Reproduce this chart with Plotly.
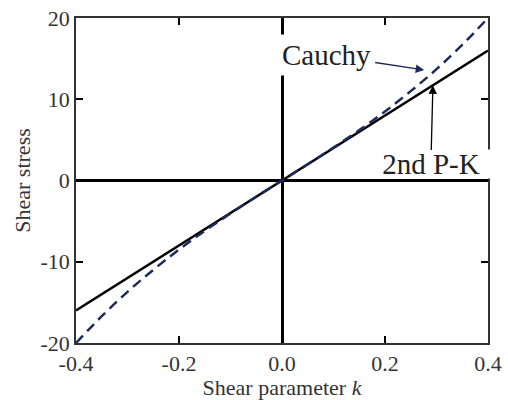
import plotly.graph_objects as go

# Data
k_pk = [-0.4, 0.0, 0.4]
stress_pk = [-16.0, 0.0, 16.0]

k_cauchy = [-0.4, -0.35, -0.3, -0.25, -0.2, -0.15, -0.1, -0.05, 0.0,
            0.05, 0.1, 0.15, 0.2, 0.25, 0.3, 0.35, 0.4]
stress_cauchy = [-20.0, -16.7, -13.7, -11.0, -8.5, -6.2, -4.06, -2.0, 0.0,
                 2.0, 4.06, 6.2, 8.5, 11.0, 13.7, 16.7, 20.0]

x_ticks = [-0.4, -0.2, 0.0, 0.2, 0.4]
x_ticklabels = ["-0.4", "-0.2", "0.0", "0.2", "0.4"]
y_ticks = [-20, -10, 0, 10, 20]
y_ticklabels = ["-20", "-10", "0", "10", "20"]

navy = "#1d2a5c"
font_family = "Liberation Serif, Times New Roman, serif"

fig = go.Figure()
fig.add_trace(go.Scatter(x=k_pk, y=stress_pk, mode="lines",
                         line=dict(color="black", width=2.5),
                         name="2nd P-K", showlegend=False))
fig.add_trace(go.Scatter(x=k_cauchy, y=stress_cauchy, mode="lines",
                         line=dict(color=navy, width=2.5, dash="10px,6px", shape="spline"),
                         name="Cauchy", showlegend=False))

fig.add_annotation(x=0.276, y=13.6, xref="x", yref="y",
                   text="Cauchy", showarrow=True, ax=-98, ay=-15,
                   arrowhead=2, arrowsize=1.3, arrowwidth=1.3, arrowcolor=navy,
                   font=dict(family=font_family, size=29, color="#222"),
                   bgcolor="white", borderpad=4)
fig.add_annotation(x=0.293, y=11.7, xref="x", yref="y",
                   text="2nd P-K", showarrow=True, ax=-2, ay=79,
                   arrowhead=2, arrowsize=1.3, arrowwidth=1.3, arrowcolor="black",
                   font=dict(family=font_family, size=29, color="#222"),
                   bgcolor="white", borderpad=1, width=116, height=26)

axis_common = dict(
    showline=True, linecolor="#333333", linewidth=1.5, mirror="ticks",
    ticks="inside", ticklen=7, tickwidth=2, tickcolor="black",
    showgrid=False, zeroline=True, zerolinecolor="black", zerolinewidth=2.5,
    tickfont=dict(family=font_family, size=22, color="#333"),
    automargin=False,
)

fig.update_layout(
    width=508, height=400,
    margin=dict(l=76, r=20, t=18, b=57),
    plot_bgcolor="white", paper_bgcolor="white",
    xaxis=dict(range=[-0.4, 0.4], tickvals=x_ticks, ticktext=x_ticklabels,
               title=dict(text="Shear parameter <i>k</i>",
                          font=dict(family=font_family, size=22, color="#333"),
                          standoff=4),
               **axis_common),
    yaxis=dict(range=[-20, 20], tickvals=y_ticks, ticktext=y_ticklabels,
               title=dict(text="Shear stress",
                          font=dict(family=font_family, size=22, color="#333"),
                          standoff=4),
               **axis_common),
)

fig.write_html("out.html", config={"displayModeBar": False},
               post_script="document.body.style.margin='0';document.body.style.overflow='hidden';")
